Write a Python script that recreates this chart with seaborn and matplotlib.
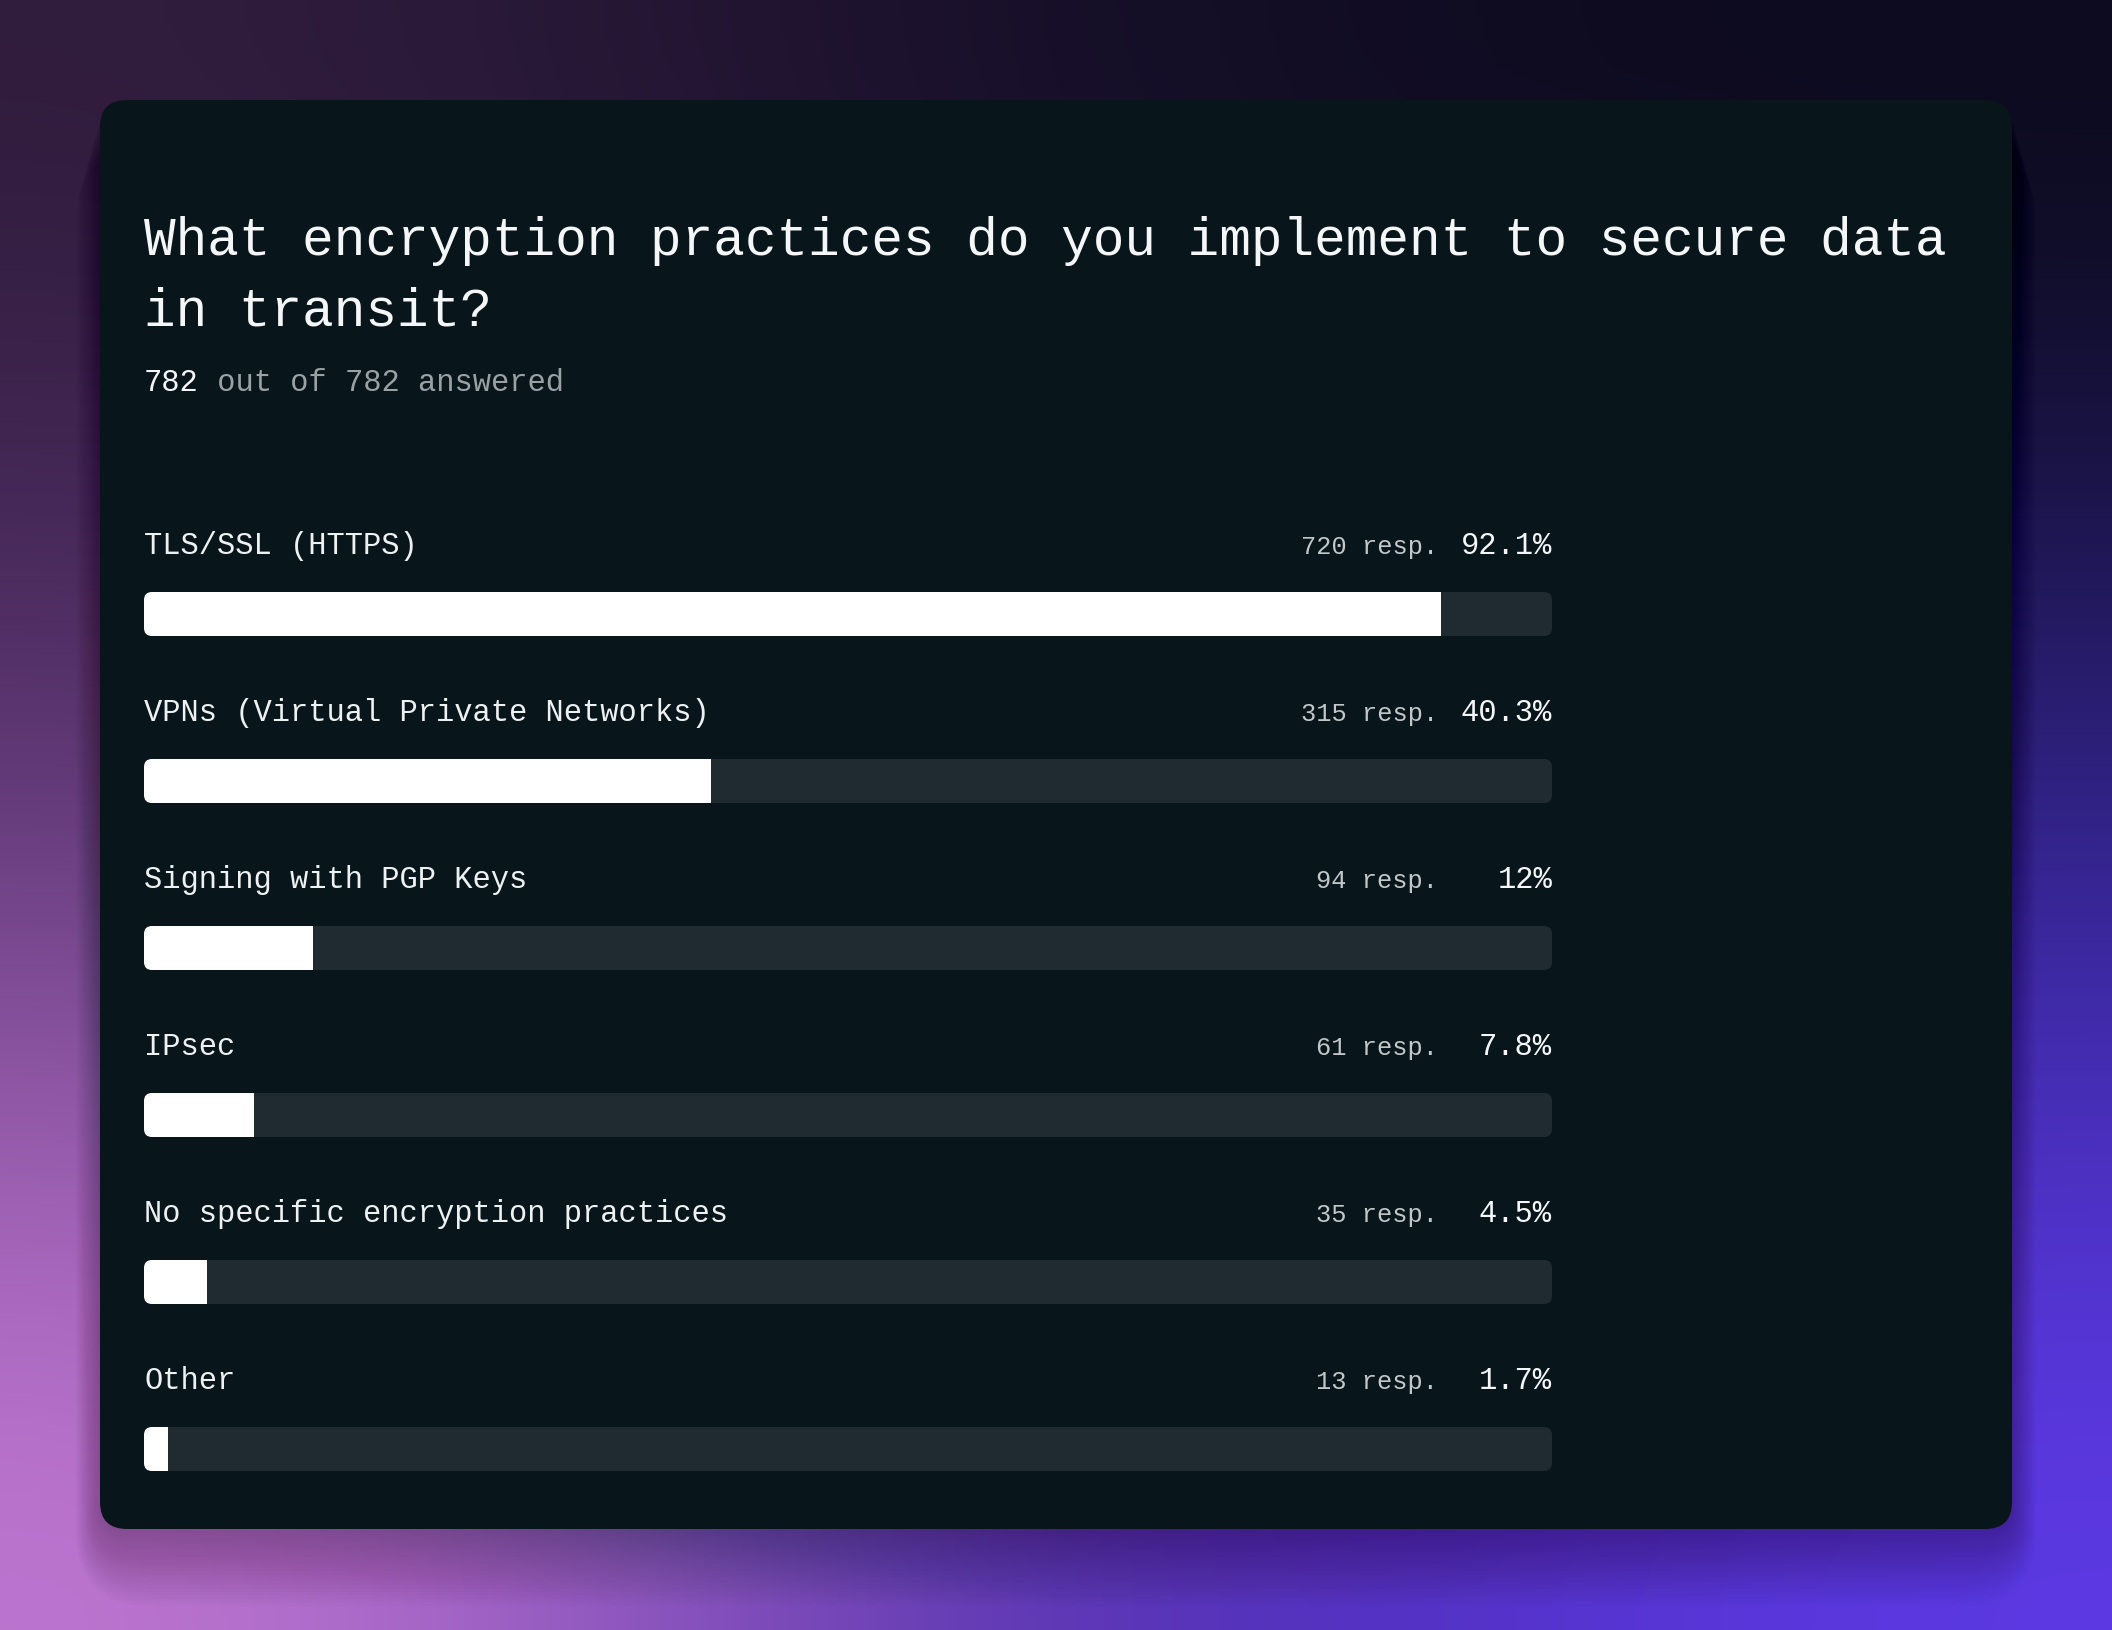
import matplotlib
matplotlib.use("Agg")
import matplotlib.pyplot as plt
from matplotlib.patches import FancyBboxPatch
from matplotlib.colors import to_rgb
import seaborn as sns
import numpy as np
import pandas as pd

# data
categories = [
    "TLS/SSL (HTTPS)",
    "VPNs (Virtual Private Networks)",
    "Signing with PGP Keys",
    "IPsec",
    "No specific encryption practices",
    "Other",
]
responses = [720, 315, 94, 61, 35, 13]
percents = [92.1, 40.3, 12, 7.8, 4.5, 1.7]
answered = 782
total = 782
title_lines = ["What encryption practices do you implement to secure data", "in transit?"]

sns.set_style("dark")
plt.rcParams["font.family"] = ["Liberation Mono", "DejaVu Sans Mono"]

W, H = 2112, 1630
fig = plt.figure(figsize=(W / 100, H / 100), dpi=100)

# background gradient + card
bg = fig.add_axes([0, 0, 1, 1])
bg.set_xlim(0, W)
bg.set_ylim(H, 0)
bg.axis("off")
grid = [
    ["#301c3c", "#130d25", "#0b0a1a"],
    ["#62387a", "#2a1c58", "#30238c"],
    ["#c47ad4", "#4a2aa8", "#5e3ae8"],
]
img = np.array([[to_rgb(c) for c in row] for row in grid])
bg.imshow(img, extent=(0, W, H, 0), interpolation="bicubic", aspect="auto", zorder=0)

# soft shadow under the card (mostly below)
for k in range(22):
    grow = 2 + k * 2.2
    bg.add_patch(FancyBboxPatch((100 - grow * 0.5, 100 + grow), 1912 + grow, 1429 + grow * 0.6,
                                boxstyle=f"round,pad=0,rounding_size={27 + grow}",
                                fc="black", ec="none", alpha=0.013, zorder=1))
bg.add_patch(FancyBboxPatch((100, 100), 1912, 1429, boxstyle="round,pad=0,rounding_size=27",
                            fc="#08151a", ec="none", zorder=2))

# title / subtitle
fig.text(144 / W, 1 - 255 / H, title_lines[0], fontsize=38, color="#f4f6f7", va="baseline")
fig.text(144 / W, 1 - 325 / H, title_lines[1], fontsize=38, color="#f4f6f7", va="baseline")
t_num = fig.text(144 / W, 1 - 391 / H, str(answered), fontsize=22, color="#f4f6f7", va="baseline")
bg.annotate(f" out of {total} answered", xy=(1, 0), xycoords=t_num, fontsize=22,
            color="#9aa1a4", va="bottom", ha="left", zorder=5)

# bars
track = "#202b31"
ax = fig.add_axes([144 / W, 1 - 1532.5 / H, 1408 / W, 1002 / H])
df = pd.DataFrame({"category": categories, "percent": percents, "full": [100] * len(categories)})
bar_w = 44 / 167
sns.barplot(data=df, x="full", y="category", color=track, width=bar_w, saturation=1,
            linewidth=0, ax=ax)
sns.barplot(data=df, x="percent", y="category", color="white", width=bar_w, saturation=1,
            linewidth=0, ax=ax)
ax.set_xlim(0, 100)
ax.set_ylim(len(categories) - 0.5, -0.5)
ax.axis("off")

patches = list(ax.patches)
n = len(categories)
aspect = (1 / 167) / (100 / 1408)
for tr, fl in zip(patches[:n], patches[n:]):
    rr = FancyBboxPatch((tr.get_x(), tr.get_y()), tr.get_width(), tr.get_height(),
                        boxstyle="round,pad=0,rounding_size=0.57", mutation_aspect=aspect,
                        fc=track, ec="none", zorder=1)
    ax.add_patch(rr)
    tr.remove()
    fl.set_zorder(2)
    fl.set_clip_path(rr)

resp_x = 100 - (1552 - 1438) * 100 / 1408
for i, (cat, r, p) in enumerate(zip(categories, responses, percents)):
    yb = i - 60 / 167
    ax.text(0, yb, cat, fontsize=22, color="#eef1f2", va="baseline", ha="left", clip_on=False)
    ax.text(100, yb, f"{p:g}%", fontsize=22, color="#f4f6f7", va="baseline", ha="right", clip_on=False)
    ax.text(resp_x, yb, f"{r} resp.", fontsize=18.3, color="#c2c7c9", va="baseline", ha="right",
            clip_on=False)

fig.savefig("out.png", dpi=100)
